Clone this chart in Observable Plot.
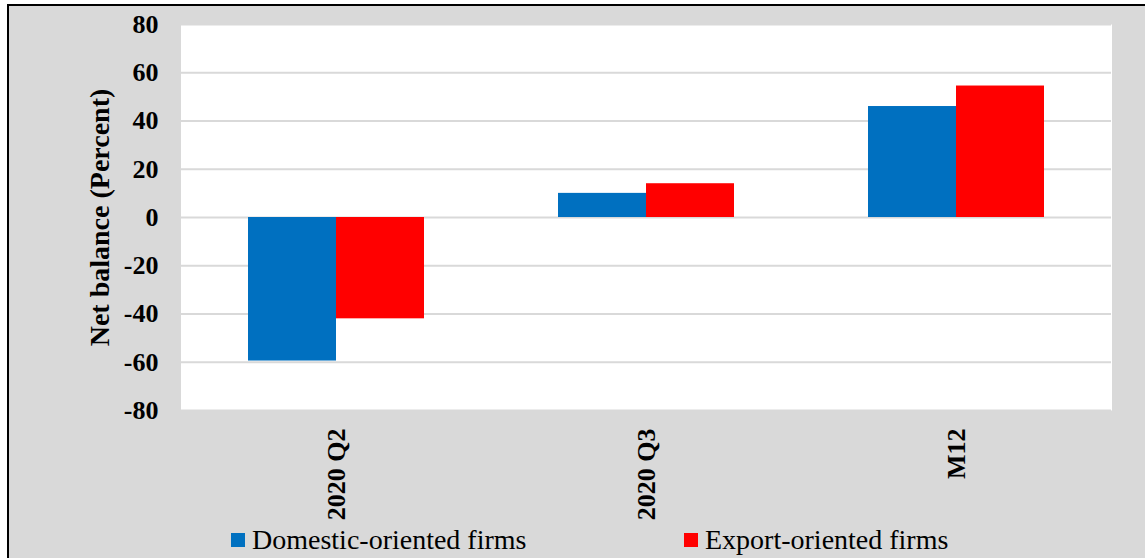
<!DOCTYPE html>
<html>
<head>
<meta charset="utf-8">
<script src="https://cdn.jsdelivr.net/npm/d3@7"></script>
<script src="https://cdn.jsdelivr.net/npm/@observablehq/plot@0.6"></script>
<style>
  html, body { margin: 0; padding: 0; background: #ffffff; }
  #wrap { position: relative; width: 1145px; height: 558px; overflow: hidden; background: #ffffff; }
  #panel { position: absolute; left: 7px; top: 4px; width: 1200px; height: 600px;
           background: #d9d9d9; border-left: 2px solid #000; border-top: 2px solid #000; }
  #chart { position: absolute; left: 0; top: 0; }
  .legend-item { position: absolute; top: 524px; font-family: "Liberation Serif", "Times New Roman", serif;
                 font-size: 28px; line-height: normal; color: #000; white-space: nowrap; }
  .legend-item .sw { position: absolute; width: 14px; height: 14px; top: 9px; }
</style>
</head>
<body>
<div id="wrap">
  <div id="panel"></div>
  <div id="chart"></div>
  <div id="legend"></div>
</div>
<script>
// Net balance by period, split by firm orientation
const categories = ["2020 Q2", "2020 Q3", "M12"];
const series = ["Domestic-oriented firms", "Export-oriented firms"];
const domesticValues = [-59.5, 10, 46];
const exportValues = [-42, 14, 54.5];
const yTicks = [-80, -60, -40, -20, 0, 20, 40, 60, 80];
const seriesColors = ["#0070c0", "#ff0000"];
const yTitle = "Net balance (Percent)";

const rows = [];
categories.forEach((c, i) => {
  rows.push({category: c, series: series[0], value: domesticValues[i]});
  rows.push({category: c, series: series[1], value: exportValues[i]});
});

const chart = Plot.plot({
  width: 1145,
  height: 558,
  marginLeft: 180,
  marginRight: 34,
  marginTop: 24,
  marginBottom: 148,
  style: {background: "transparent", fontFamily: "'Liberation Serif', 'Times New Roman', serif",
          fontSize: "26px", fontWeight: "bold", color: "#000"},
  facet: {data: rows, x: "category"},
  fx: {domain: categories, padding: 0, axis: "bottom", tickRotate: -90, tickSize: 0,
       tickPadding: 18, label: null},
  x: {domain: series, axis: null, paddingInner: 0, paddingOuter: 0.75},
  y: {domain: [-80, 80], ticks: yTicks, tickSize: 0, tickPadding: 23,
      tickFormat: d => String(d), label: yTitle, labelArrow: "none", labelAnchor: "center",
      labelOffset: 92},
  color: {domain: series, range: seriesColors},
  marks: [
    // white plotting area; slight overlap so the facet panels join without a seam
    Plot.frame({fill: "white", stroke: "none", insetLeft: -0.5, insetRight: -0.5}),
    Plot.ruleY(yTicks, {stroke: "#d9d9d9", strokeWidth: 2}),
    Plot.barY(rows, {x: "series", y: "value", fill: "series", inset: 0})
  ]
});
document.getElementById("chart").appendChild(chart);

// axis title: plain text without a direction arrow, a little larger than the ticks
chart.querySelectorAll("text").forEach(t => {
  if (t.textContent.startsWith("Net balance")) {
    t.textContent = yTitle;
    t.style.fontSize = "28px";
  }
});

// legend below the chart
const legend = document.getElementById("legend");
const legendLeft = [231, 684];
series.forEach((s, i) => {
  const item = document.createElement("div");
  item.className = "legend-item";
  item.style.left = legendLeft[i] + "px";
  item.style.paddingLeft = "21px";
  const sw = document.createElement("span");
  sw.className = "sw";
  sw.style.left = "0px";
  sw.style.background = seriesColors[i];
  item.appendChild(sw);
  item.appendChild(document.createTextNode(s));
  legend.appendChild(item);
});
</script>
</body>
</html>
